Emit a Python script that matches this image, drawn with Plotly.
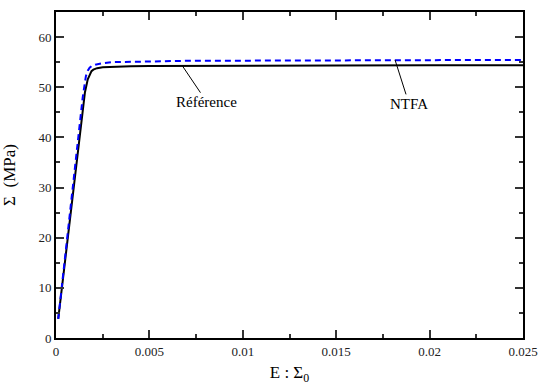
import plotly.graph_objects as go

# Reference (full-field) curve
ref_strain = [0.00012, 0.0003, 0.0008, 0.0012, 0.00155, 0.0017, 0.0018, 0.0019, 0.002, 0.0022, 0.0025, 0.003, 0.004, 0.005, 0.0075, 0.01, 0.015, 0.02, 0.025]
ref_stress = [3.8, 9.6, 25.8, 38.7, 49.0, 51.6, 52.6, 53.2, 53.5, 53.8, 54.0, 54.1, 54.2, 54.25, 54.3, 54.3, 54.35, 54.4, 54.4]

# NTFA curve
ntfa_strain = [0.00012, 0.0003, 0.0008, 0.0012, 0.00143, 0.0016, 0.0017, 0.0018, 0.0019, 0.0021, 0.0025, 0.003, 0.004, 0.005, 0.0075, 0.01, 0.015, 0.02, 0.025]
ntfa_stress = [3.8, 9.8, 26.5, 40.0, 48.0, 52.2, 53.3, 53.9, 54.2, 54.5, 54.8, 55.0, 55.1, 55.2, 55.3, 55.3, 55.35, 55.4, 55.45]

x_ticks = [0, 0.005, 0.01, 0.015, 0.02, 0.025]
x_labels = ["0", "0.005", "0.01", "0.015", "0.02", "0.025"]
y_ticks = [0, 10, 20, 30, 40, 50, 60]
y_labels = ["0", "10", "20", "30", "40", "50", "60"]

serif = "Liberation Serif"

fig = go.Figure()
fig.add_trace(go.Scatter(x=ref_strain, y=ref_stress, mode="lines",
                         line=dict(color="black", width=2), name="Référence"))
fig.add_trace(go.Scatter(x=ntfa_strain, y=ntfa_stress, mode="lines",
                         line=dict(color="#0000ff", width=2, dash="6px,4px"), name="NTFA"))

fig.add_annotation(x=0.00674, y=ref_stress[-1], text="Référence", showarrow=True,
                   arrowhead=0, arrowwidth=1, arrowcolor="black", ax=25, ay=37,
                   font=dict(family=serif, size=15, color="black"))
fig.add_annotation(x=0.01815, y=ntfa_stress[-1], text="NTFA", showarrow=True,
                   arrowhead=0, arrowwidth=1, arrowcolor="black", ax=14, ay=44,
                   font=dict(family=serif, size=15, color="black"))

axis_common = dict(showline=True, linecolor="black", linewidth=2, mirror="allticks",
                   ticks="inside", ticklen=8, tickwidth=1.5, tickcolor="#333",
                   showgrid=False, zeroline=False, automargin=False,
                   ticklabeloverflow="allow",
                   tickfont=dict(family=serif, size=13, color="#222"))

fig.update_xaxes(range=[0, 0.025], tickvals=x_ticks, ticktext=x_labels,
                 minor=dict(ticks="inside", ticklen=4, dtick=0.0025, tick0=0, tickcolor="#333", showgrid=False),
                 title=dict(text="E : Σ<sub>0</sub>", font=dict(family=serif, size=17, color="black")),
                 **axis_common)
fig.update_yaxes(range=[0, 65], tickvals=y_ticks, ticktext=y_labels,
                 minor=dict(ticks="inside", ticklen=4, dtick=5, tick0=0, tickcolor="#333", showgrid=False),
                 title=dict(text="Σ  (MPa)", font=dict(family=serif, size=17, color="black")),
                 **axis_common)

fig.update_layout(template="none", width=539, height=385, margin=dict(l=56, r=16, t=12, b=47),
                  font=dict(family=serif, color="black"),
                  plot_bgcolor="white", paper_bgcolor="white", showlegend=False)

# remove the default 8px page margin so the figure fills the window exactly; hide the modebar
fig.write_html("out.html", config=dict(displayModeBar=False),
               post_script="document.body.style.margin='0';document.body.style.overflow='hidden';")
